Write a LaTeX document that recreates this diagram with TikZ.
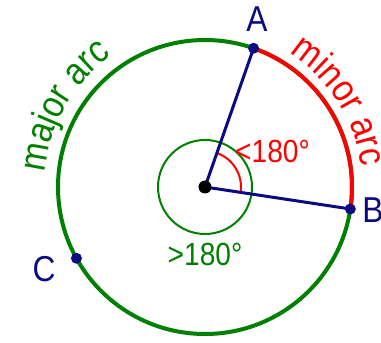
\documentclass[tikz,border=0pt]{standalone}
\usepackage{fontspec}
\setmainfont{Liberation Sans}
\newfontfamily\narrowsans[FakeStretch=0.88]{Liberation Sans}
\usetikzlibrary{decorations.text}
\definecolor{arcgreen}{RGB}{0,128,0}
\definecolor{ptblue}{RGB}{10,10,130}
\definecolor{arcred}{RGB}{255,0,0}

\begin{document}
\begin{tikzpicture}[x=1pt, y=1pt,
		pt/.style={circle, fill=ptblue, inner sep=0pt, minimum size=11pt},
		ptlabel/.style={text=ptblue, font=\narrowsans\fontsize{36}{36}\selectfont},
		anglabel/.style={font=\narrowsans\fontsize{32}{32}\selectfont}]
	\useasboundingbox (-205,-156) rectangle (176,187);
	\coordinate (O) at (0,0);
	\coordinate (A) at (70.7:147);
	\coordinate (B) at (-8.6:147);
	\coordinate (C) at (209:147);
	
	% circle, arcs and angles
	\draw[arcgreen, line width=4pt] (O) circle[radius=147pt];
	\draw[arcred, line width=4pt] (B) arc[start angle=-8.6, end angle=70.7, radius=147pt];
	\draw[arcgreen, line width=2pt] (O) circle[radius=47pt];
	\draw[arcred, line width=2pt] (-8.6:36) arc[start angle=-8.6, end angle=70.7, radius=36pt];
	
	% radii
	\draw[ptblue, line width=3pt] (A) -- (O) -- (B);
	\node[pt] (a) at (A) {};
	\node[pt] (b) at (B) {};
	\node[pt] (c) at (C) {};
	\node[circle, fill=black, inner sep=0pt, minimum size=13pt] (o) at (O) {};
	
	% labels
	\node[ptlabel] (la) at (52,168) {A};
	\node[ptlabel] (lb) at (168,-23) {B};
	\node[ptlabel] (lc) at (-161,-82) {C};
	\node[anglabel, text=arcred] (minang) at (67.5,36) {<180°};
	\node[anglabel, text=arcgreen] (majang) at (0,-67) {>180°};
	\path[decorate, decoration={text along path, text align=center,
			text={|\color{arcgreen}\narrowsans\fontsize{38}{38}\selectfont|major arc}}]
		(185:161) arc[start angle=185, end angle=115, radius=161pt];
	\path[decorate, decoration={text along path, text align=center,
			text={|\color{arcred}\narrowsans\fontsize{38}{38}\selectfont|minor arc}}]
		(68:158) arc[start angle=68, end angle=-3, radius=158pt];
\end{tikzpicture}
\end{document}
